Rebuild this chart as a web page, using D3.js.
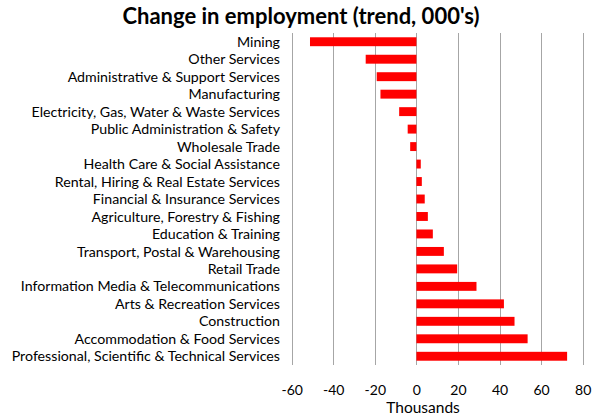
<!DOCTYPE html>
<html>
<head>
<meta charset="utf-8">
<script src="https://cdn.jsdelivr.net/npm/d3@7/dist/d3.min.js"></script>
<style>
  html, body { margin: 0; padding: 0; background: #fff; }
  svg { display: block; }
</style>
</head>
<body>
<svg id="chart" width="592" height="416"></svg>
<script>
// Industries, ordered top to bottom
const industries = [
  "Mining",
  "Other Services",
  "Administrative & Support Services",
  "Manufacturing",
  "Electricity, Gas, Water & Waste Services",
  "Public Administration & Safety",
  "Wholesale Trade",
  "Health Care & Social Assistance",
  "Rental, Hiring & Real Estate Services",
  "Financial & Insurance Services",
  "Agriculture, Forestry & Fishing",
  "Education & Training",
  "Transport, Postal & Warehousing",
  "Retail Trade",
  "Information Media & Telecommunications",
  "Arts & Recreation Services",
  "Construction",
  "Accommodation & Food Services",
  "Professional, Scientific & Technical Services"
];

// Change in employment, trend, thousands
const change = [
  -51.2, -24.4, -19.1, -17.3, -8.3, -4.2, -3.0,
  2.1, 2.6, 4.0, 5.5, 7.9, 13.2, 19.6, 28.9, 42.1, 47.2, 53.5, 72.5
];

const xTicks = [-60, -40, -20, 0, 20, 40, 60, 80];

const data = industries.map((name, i) => ({ name, value: change[i] }));

const svg = d3.select("#chart");
const font = "Lato, 'Open Sans', sans-serif";

const x = d3.scaleLinear().domain([-60, 80]).range([291.7, 582.7]);
const y = d3.scaleBand().domain(industries).range([33, 365]).paddingInner(0.49).paddingOuter(0.245);

// vertical gridlines
svg.append("g")
  .selectAll("line")
  .data(xTicks)
  .join("line")
  .attr("x1", d => Math.round(x(d)) + 0.5)
  .attr("x2", d => Math.round(x(d)) + 0.5)
  .attr("y1", 33)
  .attr("y2", 365)
  .attr("stroke", "#a6a6a6")
  .attr("stroke-width", 1);

// bars
svg.append("g")
  .selectAll("rect")
  .data(data)
  .join("rect")
  .attr("x", d => x(Math.min(0, d.value)))
  .attr("width", d => Math.abs(x(d.value) - x(0)))
  .attr("y", d => y(d.name))
  .attr("height", y.bandwidth())
  .attr("fill", "#ff0000");

// category labels
const yAxis = svg.append("g")
  .attr("transform", "translate(280,0)")
  .call(d3.axisLeft(y).tickSize(0).tickPadding(0));
yAxis.select(".domain").remove();
yAxis.selectAll("text")
  .attr("font-family", font)
  .attr("font-size", 14.2)
  .attr("dy", "0.36em")
  .attr("fill", "#000");

// x tick labels (plain hyphen for negatives)
const xAxis = svg.append("g")
  .attr("transform", "translate(0,385)")
  .call(d3.axisBottom(x).tickValues(xTicks).tickSize(0).tickPadding(0)
    .tickFormat(d => String(d)));
xAxis.select(".domain").remove();
xAxis.selectAll("text")
  .attr("font-family", font)
  .attr("font-size", 14)
  .attr("fill", "#000");

// axis title
svg.append("text")
  .attr("x", 423)
  .attr("y", 413)
  .attr("text-anchor", "middle")
  .attr("font-family", font)
  .attr("font-size", 15.5)
  .attr("fill", "#000")
  .text("Thousands");

// chart title
svg.append("text")
  .attr("x", 301)
  .attr("y", 24)
  .attr("text-anchor", "middle")
  .attr("font-family", font)
  .attr("font-size", 22)
  .attr("font-weight", "bold")
  .attr("fill", "#000")
  .text("Change in employment (trend, 000's)");
</script>
</body>
</html>
